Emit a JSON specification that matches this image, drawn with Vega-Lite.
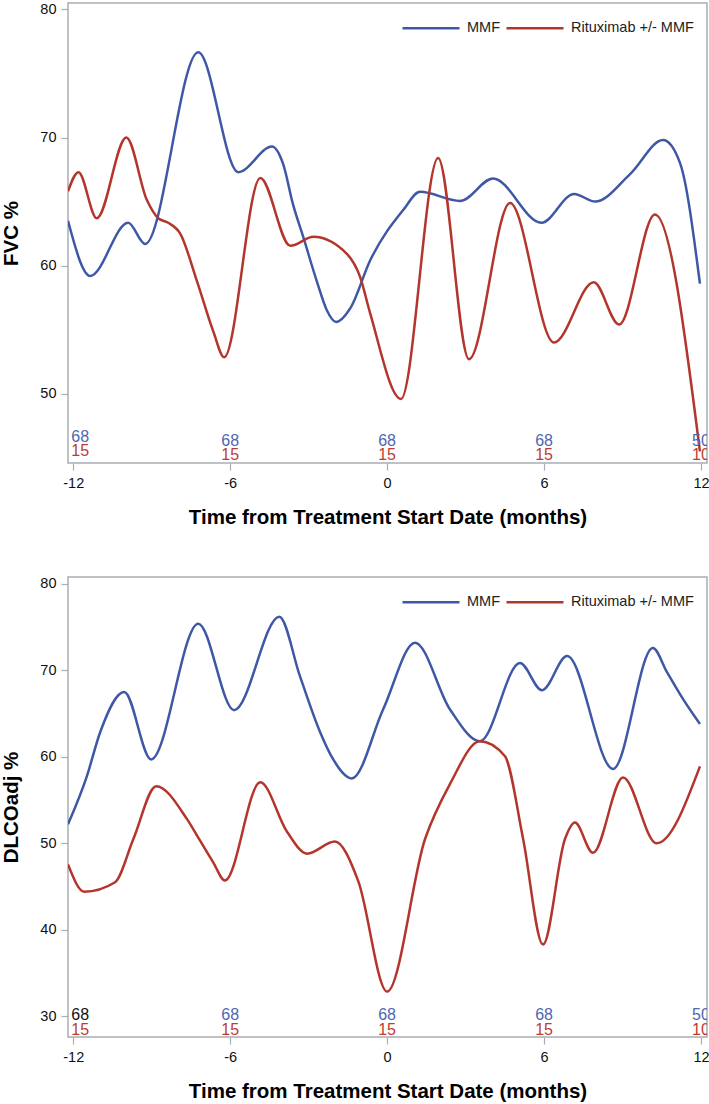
{
  "$schema": "https://vega.github.io/schema/vega-lite/v6.json",
  "padding": {"left": 1, "top": 0, "right": 0, "bottom": 0},
  "background": "white",
  "datasets": {
    "fvc": [
      {"arm": "MMF", "t": -12.2, "v": 63.5},
      {"arm": "MMF", "t": -11.35, "v": 59.2},
      {"arm": "MMF", "t": -9.9, "v": 63.35},
      {"arm": "MMF", "t": -9.25, "v": 61.7},
      {"arm": "MMF", "t": -7.22, "v": 76.65},
      {"arm": "MMF", "t": -5.69, "v": 67.3},
      {"arm": "MMF", "t": -4.4, "v": 69.3},
      {"arm": "MMF", "t": -3.97, "v": 67.9},
      {"arm": "MMF", "t": -3.6, "v": 64.8},
      {"arm": "MMF", "t": -3.2, "v": 62.2},
      {"arm": "MMF", "t": -2.69, "v": 58.8},
      {"arm": "MMF", "t": -2.3, "v": 56.5},
      {"arm": "MMF", "t": -1.95, "v": 55.6},
      {"arm": "MMF", "t": -1.4, "v": 56.7},
      {"arm": "MMF", "t": -0.65, "v": 60.4},
      {"arm": "MMF", "t": 0.6, "v": 64.3},
      {"arm": "MMF", "t": 1.26, "v": 65.76},
      {"arm": "MMF", "t": 2.79, "v": 65.05},
      {"arm": "MMF", "t": 4.05, "v": 66.8},
      {"arm": "MMF", "t": 5.9, "v": 63.35},
      {"arm": "MMF", "t": 7.15, "v": 65.6},
      {"arm": "MMF", "t": 7.95, "v": 65.0},
      {"arm": "MMF", "t": 9.29, "v": 67.15},
      {"arm": "MMF", "t": 10.55, "v": 69.8},
      {"arm": "MMF", "t": 11.2, "v": 68.0},
      {"arm": "MMF", "t": 11.96, "v": 58.6},
      {"arm": "Rituximab +/- MMF", "t": -12.2, "v": 65.8},
      {"arm": "Rituximab +/- MMF", "t": -11.8, "v": 67.3},
      {"arm": "Rituximab +/- MMF", "t": -11.1, "v": 63.7},
      {"arm": "Rituximab +/- MMF", "t": -9.97, "v": 70.0},
      {"arm": "Rituximab +/- MMF", "t": -9.18, "v": 65.1},
      {"arm": "Rituximab +/- MMF", "t": -8.75, "v": 63.7},
      {"arm": "Rituximab +/- MMF", "t": -8.37, "v": 63.35},
      {"arm": "Rituximab +/- MMF", "t": -7.91, "v": 62.5},
      {"arm": "Rituximab +/- MMF", "t": -7.27, "v": 58.8},
      {"arm": "Rituximab +/- MMF", "t": -6.65, "v": 54.9},
      {"arm": "Rituximab +/- MMF", "t": -6.23, "v": 52.85},
      {"arm": "Rituximab +/- MMF", "t": -4.85, "v": 66.85},
      {"arm": "Rituximab +/- MMF", "t": -3.7, "v": 61.55},
      {"arm": "Rituximab +/- MMF", "t": -2.82, "v": 62.25},
      {"arm": "Rituximab +/- MMF", "t": -1.53, "v": 60.9},
      {"arm": "Rituximab +/- MMF", "t": -1.03, "v": 59.1},
      {"arm": "Rituximab +/- MMF", "t": -0.65, "v": 56.3},
      {"arm": "Rituximab +/- MMF", "t": 0.53, "v": 49.6},
      {"arm": "Rituximab +/- MMF", "t": 1.95, "v": 68.4},
      {"arm": "Rituximab +/- MMF", "t": 3.13, "v": 52.7},
      {"arm": "Rituximab +/- MMF", "t": 4.7, "v": 64.9},
      {"arm": "Rituximab +/- MMF", "t": 6.38, "v": 54.0},
      {"arm": "Rituximab +/- MMF", "t": 7.9, "v": 58.7},
      {"arm": "Rituximab +/- MMF", "t": 8.87, "v": 55.4},
      {"arm": "Rituximab +/- MMF", "t": 10.24, "v": 64.0},
      {"arm": "Rituximab +/- MMF", "t": 11.96, "v": 45.5}
    ],
    "dlco": [
      {"arm": "MMF", "t": -12.2, "v": 52.2},
      {"arm": "MMF", "t": -11.48, "v": 57.75},
      {"arm": "MMF", "t": -10.97, "v": 62.85},
      {"arm": "MMF", "t": -10.05, "v": 67.5},
      {"arm": "MMF", "t": -9.02, "v": 59.7},
      {"arm": "MMF", "t": -7.22, "v": 75.4},
      {"arm": "MMF", "t": -5.85, "v": 65.4},
      {"arm": "MMF", "t": -4.12, "v": 76.2},
      {"arm": "MMF", "t": -3.33, "v": 69.3},
      {"arm": "MMF", "t": -2.56, "v": 62.85},
      {"arm": "MMF", "t": -2.06, "v": 59.7},
      {"arm": "MMF", "t": -1.35, "v": 57.5},
      {"arm": "MMF", "t": -0.15, "v": 65.5},
      {"arm": "MMF", "t": 1.07, "v": 73.2},
      {"arm": "MMF", "t": 2.4, "v": 65.5},
      {"arm": "MMF", "t": 3.55, "v": 61.8},
      {"arm": "MMF", "t": 5.08, "v": 70.85},
      {"arm": "MMF", "t": 5.92, "v": 67.7},
      {"arm": "MMF", "t": 6.88, "v": 71.65},
      {"arm": "MMF", "t": 8.64, "v": 58.6},
      {"arm": "MMF", "t": 10.16, "v": 72.6},
      {"arm": "MMF", "t": 10.7, "v": 69.8},
      {"arm": "MMF", "t": 11.31, "v": 66.7},
      {"arm": "MMF", "t": 11.96, "v": 63.8},
      {"arm": "Rituximab +/- MMF", "t": -12.2, "v": 47.55},
      {"arm": "Rituximab +/- MMF", "t": -11.58, "v": 44.4},
      {"arm": "Rituximab +/- MMF", "t": -10.4, "v": 45.5},
      {"arm": "Rituximab +/- MMF", "t": -9.7, "v": 50.5},
      {"arm": "Rituximab +/- MMF", "t": -8.83, "v": 56.6},
      {"arm": "Rituximab +/- MMF", "t": -7.65, "v": 52.8},
      {"arm": "Rituximab +/- MMF", "t": -7.15, "v": 50.3},
      {"arm": "Rituximab +/- MMF", "t": -6.65, "v": 47.8},
      {"arm": "Rituximab +/- MMF", "t": -6.2, "v": 45.7},
      {"arm": "Rituximab +/- MMF", "t": -4.85, "v": 57.05},
      {"arm": "Rituximab +/- MMF", "t": -3.82, "v": 51.3},
      {"arm": "Rituximab +/- MMF", "t": -3.06, "v": 48.8},
      {"arm": "Rituximab +/- MMF", "t": -2.0, "v": 50.2},
      {"arm": "Rituximab +/- MMF", "t": -1.1, "v": 45.6},
      {"arm": "Rituximab +/- MMF", "t": 0.0, "v": 32.85},
      {"arm": "Rituximab +/- MMF", "t": 1.45, "v": 50.5},
      {"arm": "Rituximab +/- MMF", "t": 2.41, "v": 56.9},
      {"arm": "Rituximab +/- MMF", "t": 3.55, "v": 61.8},
      {"arm": "Rituximab +/- MMF", "t": 4.5, "v": 60.1},
      {"arm": "Rituximab +/- MMF", "t": 5.2, "v": 50.5},
      {"arm": "Rituximab +/- MMF", "t": 5.96, "v": 38.3},
      {"arm": "Rituximab +/- MMF", "t": 6.8, "v": 50.5},
      {"arm": "Rituximab +/- MMF", "t": 7.18, "v": 52.4},
      {"arm": "Rituximab +/- MMF", "t": 7.87, "v": 48.9},
      {"arm": "Rituximab +/- MMF", "t": 9.02, "v": 57.6},
      {"arm": "Rituximab +/- MMF", "t": 10.3, "v": 50.0},
      {"arm": "Rituximab +/- MMF", "t": 11.96, "v": 58.9}
    ],
    "counts": [
      {"arm": "MMF", "t": -12, "n": "68"},
      {"arm": "MMF", "t": -6, "n": "68"},
      {"arm": "MMF", "t": 0, "n": "68"},
      {"arm": "MMF", "t": 6, "n": "68"},
      {"arm": "MMF", "t": 12, "n": "50"},
      {"arm": "Rituximab +/- MMF", "t": -12, "n": "15"},
      {"arm": "Rituximab +/- MMF", "t": -6, "n": "15"},
      {"arm": "Rituximab +/- MMF", "t": 0, "n": "15"},
      {"arm": "Rituximab +/- MMF", "t": 6, "n": "15"},
      {"arm": "Rituximab +/- MMF", "t": 12, "n": "10"}
    ]
  },
  "vconcat": [
    {
      "width": 639,
      "height": 460,
      "encoding": {
        "x": {"field": "t", "type": "quantitative",
              "scale": {"domain": [-12.2, 12.23], "nice": false, "zero": false},
              "axis": {"values": [-12, -6, 0, 6, 12], "labelExpr": "'' + datum.value", "title": "Time from Treatment Start Date (months)"}}
      },
      "layer": [
        {
          "data": {"name": "fvc"},
          "mark": {"type": "line", "interpolate": "monotone", "strokeWidth": 2.5, "clip": true},
          "encoding": {
            "y": {"field": "v", "type": "quantitative",
                  "scale": {"domain": [44.6, 80.5], "nice": false, "zero": false},
                  "axis": {"values": [50, 60, 70, 80], "title": "FVC %"}},
            "color": {"field": "arm", "type": "nominal",
                      "scale": {"domain": ["MMF", "Rituximab +/- MMF"], "range": ["#3f58a6", "#b3352c"]},
                      "legend": {"orient": "none", "legendX": 352, "legendY": 14, "direction": "horizontal", "title": null,
                                 "symbolType": "M-3,0H3", "symbolSize": 361, "symbolStrokeWidth": 2.5,
                                 "labelFontSize": 14.5, "labelColor": "#222", "labelOffset": 25, "columnPadding": 0, "padding": 0}}
          }
        },
        {
          "data": {"name": "counts"},
          "transform": [{"filter": "datum.arm === 'MMF' && datum.t !== -12"}],
          "mark": {"type": "text", "fontSize": 16, "baseline": "middle", "align": "center", "clip": true, "color": "#5066b2"},
          "encoding": {"y": {"datum": 46.34}, "text": {"field": "n"}}
        },
        {
          "data": {"name": "counts"},
          "transform": [{"filter": "datum.arm === 'MMF' && datum.t === -12"}],
          "mark": {"type": "text", "fontSize": 16, "baseline": "middle", "align": "left", "dx": -2, "dy": -4, "clip": true, "color": "#5066b2"},
          "encoding": {"y": {"datum": 46.34}, "text": {"field": "n"}}
        },
        {
          "data": {"name": "counts"},
          "transform": [{"filter": "datum.arm !== 'MMF' && datum.t !== -12"}],
          "mark": {"type": "text", "fontSize": 16, "baseline": "middle", "align": "center", "clip": true, "color": "#bf3b30"},
          "encoding": {"y": {"datum": 45.25}, "text": {"field": "n"}}
        },
        {
          "data": {"name": "counts"},
          "transform": [{"filter": "datum.arm !== 'MMF' && datum.t === -12"}],
          "mark": {"type": "text", "fontSize": 16, "baseline": "middle", "align": "left", "dx": -2, "dy": -4, "clip": true, "color": "#bf3b30"},
          "encoding": {"y": {"datum": 45.25}, "text": {"field": "n"}}
        }
      ]
    },
    {
      "width": 639,
      "height": 460,
      "encoding": {
        "x": {"field": "t", "type": "quantitative",
              "scale": {"domain": [-12.2, 12.23], "nice": false, "zero": false},
              "axis": {"values": [-12, -6, 0, 6, 12], "labelExpr": "'' + datum.value", "title": "Time from Treatment Start Date (months)"}}
      },
      "layer": [
        {
          "data": {"name": "dlco"},
          "mark": {"type": "line", "interpolate": "monotone", "strokeWidth": 2.5, "clip": true},
          "encoding": {
            "y": {"field": "v", "type": "quantitative",
                  "scale": {"domain": [27.6, 80.8], "nice": false, "zero": false},
                  "axis": {"values": [30, 40, 50, 60, 70, 80], "title": "DLCOadj %"}},
            "color": {"field": "arm", "type": "nominal",
                      "scale": {"domain": ["MMF", "Rituximab +/- MMF"], "range": ["#3f58a6", "#b3352c"]},
                      "legend": {"orient": "none", "legendX": 352, "legendY": 14, "direction": "horizontal", "title": null,
                                 "symbolType": "M-3,0H3", "symbolSize": 361, "symbolStrokeWidth": 2.5,
                                 "labelFontSize": 14.5, "labelColor": "#222", "labelOffset": 25, "columnPadding": 0, "padding": 0}}
          }
        },
        {
          "data": {"name": "counts"},
          "transform": [{"filter": "datum.arm === 'MMF' && datum.t !== -12"}],
          "mark": {"type": "text", "fontSize": 16, "baseline": "middle", "align": "center", "clip": true, "color": "#5066b2"},
          "encoding": {"y": {"datum": 30.17}, "text": {"field": "n"}}
        },
        {
          "data": {"name": "counts"},
          "transform": [{"filter": "datum.arm === 'MMF' && datum.t === -12"}],
          "mark": {"type": "text", "fontSize": 16, "baseline": "middle", "align": "left", "dx": -2, "clip": true, "color": "#111111"},
          "encoding": {"y": {"datum": 30.17}, "text": {"field": "n"}}
        },
        {
          "data": {"name": "counts"},
          "transform": [{"filter": "datum.arm !== 'MMF' && datum.t !== -12"}],
          "mark": {"type": "text", "fontSize": 16, "baseline": "middle", "align": "center", "clip": true, "color": "#bf3b30"},
          "encoding": {"y": {"datum": 28.44}, "text": {"field": "n"}}
        },
        {
          "data": {"name": "counts"},
          "transform": [{"filter": "datum.arm !== 'MMF' && datum.t === -12"}],
          "mark": {"type": "text", "fontSize": 16, "baseline": "middle", "align": "left", "dx": -2, "clip": true, "color": "#bf3b30"},
          "encoding": {"y": {"datum": 28.44}, "text": {"field": "n"}}
        }
      ]
    }
  ],
  "spacing": 46,
  "resolve": {"scale": {"color": "independent"}, "legend": {"color": "independent"}},
  "config": {
    "font": "Liberation Sans",
    "view": {"stroke": "#a9aeb4", "strokeWidth": 1.5},
    "axis": {"domain": false, "grid": false, "ticks": true, "tickColor": "#a9aeb4", "tickSize": 7, "tickWidth": 1.2,
             "labelFontSize": 14.5, "labelColor": "#111111", "labelFont": "Liberation Sans",
             "titleFont": "Liberation Sans", "titleFontSize": 20.5, "titleFontWeight": "bold", "titleColor": "#000000",
             "labelPadding": 5},
    "axisX": {"titlePadding": 18, "labelPadding": 6},
    "axisY": {"titlePadding": 18},
    "legend": {"labelFont": "Liberation Sans"}
  }
}
